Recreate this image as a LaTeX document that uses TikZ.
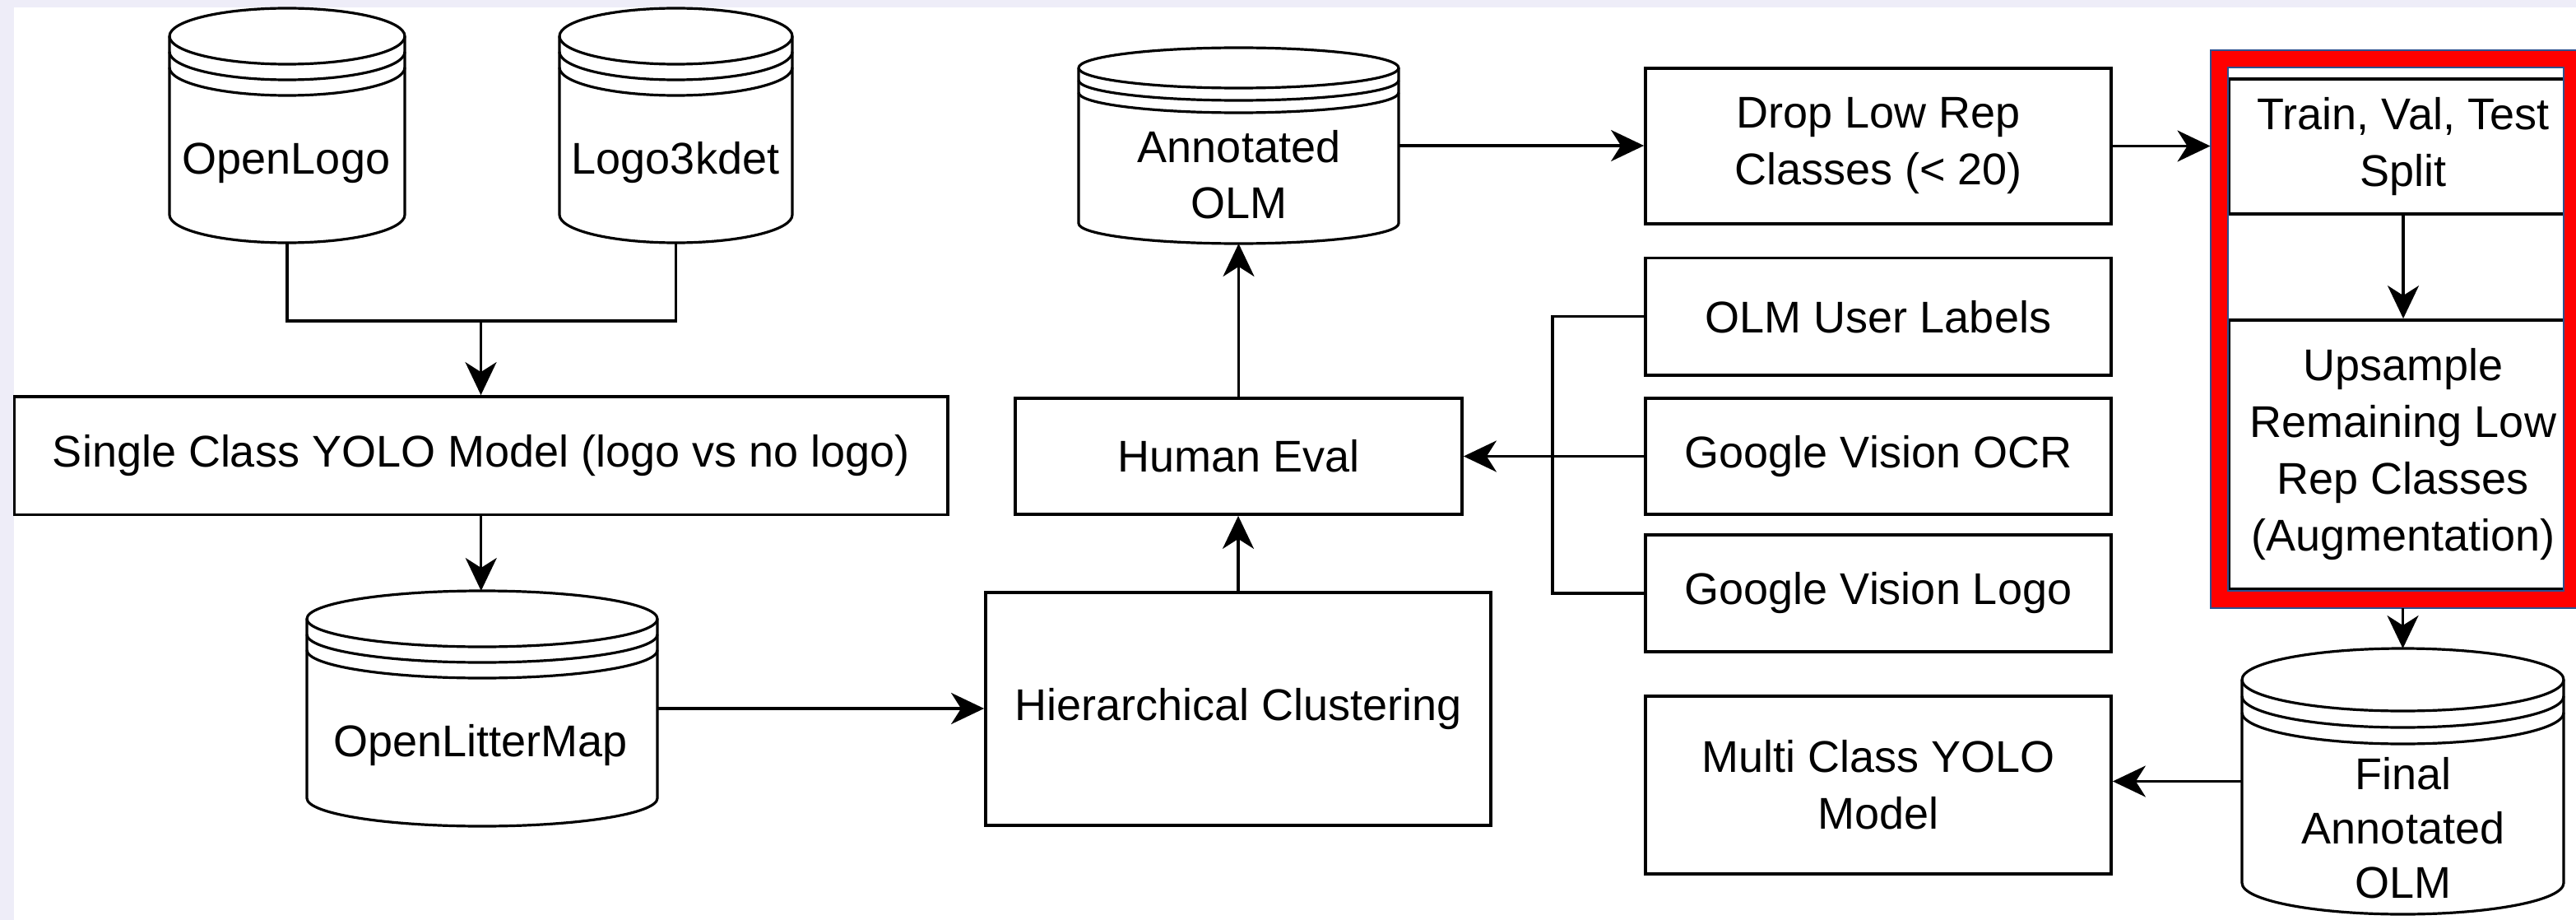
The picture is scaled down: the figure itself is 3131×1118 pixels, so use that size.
\documentclass[tikz,border=0pt]{standalone}
\usepackage{fontspec}
\setmainfont{Liberation Sans}
\usetikzlibrary{arrows.meta}
\definecolor{lav}{RGB}{238,237,248}
\definecolor{navyline}{RGB}{44,82,145}
\tikzset{
  shp/.style={draw=black,line width=3.2pt,line join=round},
  box/.style={draw=black,line width=3.8pt,align=center,inner sep=0pt,fill=white},
  txt/.style={inner sep=0pt,align=center},
  ln/.style={draw=black,line width=3.3pt},
  arr/.style={ln,-{Stealth[length=40pt,width=38pt,inset=12pt]}},
}
% name, L, R, T, B, ry, ring spacing
\newcommand\zzstore[7]{%
  \pgfmathsetmacro\zzcx{(#2+#3)/2}%
  \pgfmathsetmacro\zzkx{0.5523*(#3-#2)/2}%
  \pgfmathsetmacro\zzky{0.5523*#6}%
  \pgfmathsetmacro\zztc{#4+#6}%
  \pgfmathsetmacro\zzbc{#5-#6}%
  \pgfmathsetmacro\zzw{#3-#2}%
  \pgfmathsetmacro\zzh{#5-#4}%
  \pgfmathsetmacro\zzcy{(#4+#5)/2}%
  \draw[shp,fill=white] (#2,\zztc) .. controls (#2,\zztc-\zzky) and (\zzcx-\zzkx,#4) .. (\zzcx,#4)
     .. controls (\zzcx+\zzkx,#4) and (#3,\zztc-\zzky) .. (#3,\zztc) -- (#3,\zzbc)
     .. controls (#3,\zzbc+\zzky) and (\zzcx+\zzkx,#5) .. (\zzcx,#5)
     .. controls (\zzcx-\zzkx,#5) and (#2,\zzbc+\zzky) .. (#2,\zzbc) -- cycle;
  \foreach \zzd in {0,#7,2*#7}{%
    \draw[shp] (#2,\zztc+\zzd) .. controls (#2,\zztc+\zzd+\zzky) and (\zzcx-\zzkx,\zztc+\zzd+#6) .. (\zzcx,\zztc+\zzd+#6)
       .. controls (\zzcx+\zzkx,\zztc+\zzd+#6) and (#3,\zztc+\zzd+\zzky) .. (#3,\zztc+\zzd);
  }%
  \node[inner sep=0pt,outer sep=0pt,minimum width=\zzw pt,minimum height=\zzh pt] (#1) at (\zzcx,\zzcy) {};%
}
% name, L, T, R, B, text
\newcommand\zzbox[6]{%
  \pgfmathsetmacro\zzbx{(#2+#4)/2}%
  \pgfmathsetmacro\zzby{(#3+#5)/2}%
  \pgfmathsetmacro\zzbw{#4-#2}%
  \pgfmathsetmacro\zzbh{#5-#3}%
  \node[box,minimum width=\zzbw pt,minimum height=\zzbh pt] (#1) at (\zzbx,\zzby) {#6};%
}
\begin{document}
\begin{tikzpicture}[x=1pt,y=-1pt,font=\fontsize{54}{69}\selectfont]
\useasboundingbox (0,0) rectangle (3131,1118);
\fill[lav] (0,0) rectangle (3131,1118);
\fill[white] (16.5,9.5) rectangle (3131,1118);
\begin{scope}
\clip (0,0) rectangle (3131,1118);
% data stores
\zzstore{ol}{206}{492}{10}{295}{34}{19}
\zzstore{l3}{680}{963}{10}{295}{34}{19}
\zzstore{olm}{373}{799}{718}{1004}{34}{19}
\zzstore{ann}{1311}{1700}{58}{296}{24.5}{15}
\zzstore{final}{2725}{3116}{788}{1111}{38}{20}
\node[txt] (ol-t) at (348,198) {OpenLogo};
\node[txt] (l3-t) at (821,198) {Logo3kdet};
\node[txt] (olm-t) at (584,906) {OpenLitterMap};
\node[txt,font=\fontsize{54}{67.5}\selectfont] (ann-t) at (1506,212) {Annotated\\OLM};
\node[txt,font=\fontsize{54}{66}\selectfont] (final-t) at (2921,1006) {Final\\Annotated\\OLM};
% boxes
\zzbox{single}{17.5}{482}{1152}{625.5}{Single Class YOLO Model (logo vs no logo)}
\zzbox{human}{1234}{484}{1777}{625}{Human Eval}
\zzbox{hier}{1198}{720}{1812}{1003}{Hierarchical Clustering}
\zzbox{drop}{2000}{83}{2566}{272}{Drop Low Rep\\Classes (< 20)}
\zzbox{users}{2000}{313.5}{2566}{456}{OLM User Labels}
\zzbox{ocr}{2000}{484}{2566}{625}{Google Vision OCR}
\zzbox{gvlogo}{2000}{650}{2566}{792}{Google Vision Logo}
\zzbox{multi}{2000}{846}{2566}{1062}{Multi Class YOLO\\Model}
\zzbox{train}{2709}{96}{3133}{260}{Train, Val, Test\\Split}
\zzbox{ups}{2709}{389}{3133}{716}{Upsample\\Remaining Low\\Rep Classes\\(Augmentation)}
% highlight frame
\node[draw=red,line width=21pt,minimum width=429.5pt,minimum height=657pt,inner sep=0pt] (hl) at (2911.75,400) {};
\draw[navyline,line width=2pt] (hl.north west) rectangle (hl.south east);
\draw[navyline,line width=2pt] ([shift={(21,21)}]hl.north west) rectangle ([shift={(-21,-21)}]hl.south east);
% connectors
\coordinate (j1) at (584.5,390);
\draw[ln] (ol.south) |- (j1) -| (l3.south);
\draw[arr] (j1) -- (j1 |- single.north);
\draw[arr] (single.south) -- (single.south |- olm.north);
\draw[arr] (olm.east) -- (olm.east -| hier.west);
\draw[arr] (hier.north) -- (hier.north |- human.south);
\draw[arr] (human.north) -- (human.north |- ann.south);
\draw[arr] (ann.east) -- (ann.east -| drop.west);
\draw[arr] (drop.east) -- (drop.east -| hl.west);
\draw[arr] (train.south) -- (train.south |- ups.north);
\draw[arr] (final.north |- hl.south) -- (final.north);
\draw[arr] (final.west) -- (final.west -| multi.east);
\draw[arr] (ocr.west) -- (ocr.west -| human.east);
\coordinate (bx) at (1887,0);
\draw[ln] (users.west) -- (users.west -| bx) -- (gvlogo.west -| bx) -- (gvlogo.west);
\end{scope}
\end{tikzpicture}
\end{document}
